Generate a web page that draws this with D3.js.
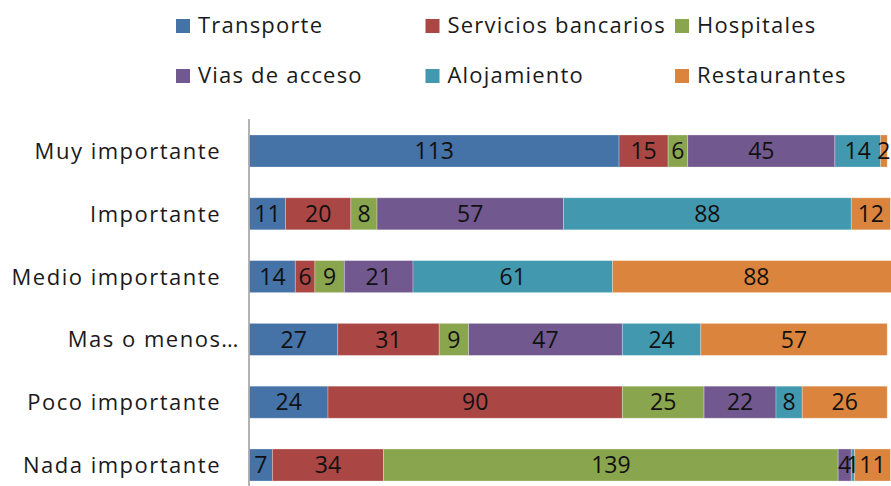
<!DOCTYPE html>
<html>
<head>
<meta charset="utf-8">
<script src="https://cdn.jsdelivr.net/npm/d3@7"></script>
<style>
  body { margin: 0; background: #fff; }
  svg { display: block; font-family: "Open Sans", sans-serif; }
</style>
</head>
<body>
<svg width="891" height="486"></svg>
<script>
// rows, top to bottom
var categories = ['Muy importante', 'Importante', 'Medio importante', 'Mas o menos\u2026', 'Poco importante', 'Nada importante'];
var seriesNames = ['Transporte', 'Servicios bancarios', 'Hospitales', 'Vias de acceso', 'Alojamiento', 'Restaurantes'];
var seriesColors = ['#4572A7', '#AA4643', '#89A54E', '#71588F', '#4198AF', '#DB843D'];

var transporte = [113, 11, 14, 27, 24, 7];
var servicios = [15, 20, 6, 31, 90, 34];
var hospitales = [6, 8, 9, 9, 25, 139];
var vias = [45, 57, 21, 47, 22, 4];
var alojamiento = [14, 88, 61, 24, 8, 1];
var restaurantes = [2, 12, 88, 57, 26, 11];

var seriesValues = [transporte, servicios, hospitales, vias, alojamiento, restaurantes];

var width = 891, height = 486;
var svg = d3.select('svg');

// table for the stack
var table = categories.map(function(c, i) {
  var row = { cat: c };
  seriesNames.forEach(function(s, j) { row[s] = seriesValues[j][i]; });
  return row;
});

var stacked = d3.stack().keys(seriesNames)(table);

var x = d3.scaleLinear().domain([0, 195]).range([249.5, 887.2]);
var y = d3.scaleBand().domain(categories).range([119.6, 496.4])
  .paddingInner(0.49).paddingOuter(0.245);
var color = d3.scaleOrdinal().domain(seriesNames).range(seriesColors);

var bars = svg.append('g').selectAll('g')
  .data(stacked)
  .enter()
  .append('g')
  .style('fill', function(d) { return color(d.key); });

bars.selectAll('rect')
  .data(function(d) { return d; })
  .enter()
  .append('rect')
  .attr('x', function(d) { return x(d[0]); })
  .attr('y', function(d) { return y(d.data.cat); })
  .attr('width', function(d) { return x(d[1]) - x(d[0]); })
  .attr('height', y.bandwidth())
  .style('stroke', 'rgba(255,255,255,0.35)')
  .style('stroke-width', 0.8);

// value labels on top of all bars, centred in each segment
var labels = svg.append('g').selectAll('g')
  .data(stacked)
  .enter()
  .append('g');

labels.selectAll('text')
  .data(function(d) { return d; })
  .enter()
  .append('text')
  .attr('x', function(d) { return (x(d[0]) + x(d[1])) / 2; })
  .attr('y', function(d) { return y(d.data.cat) + y.bandwidth() / 2; })
  .attr('dy', '0.36em')
  .attr('text-anchor', 'middle')
  .style('fill', '#111')
  .style('font-size', '23px')
  .text(function(d) { return d[1] - d[0]; });

// category axis
var yAxis = svg.append('g')
  .attr('transform', 'translate(249,0)')
  .call(d3.axisLeft(y).tickSize(0).tickPadding(28));

yAxis.select('.domain').remove();
yAxis.append('line')
  .attr('x1', 0).attr('x2', 0)
  .attr('y1', 119).attr('y2', height)
  .style('stroke', '#9a9a9a')
  .style('stroke-width', 1.5);

yAxis.selectAll('.tick text')
  .attr('x', function(d) { return d.slice(-1) == '\u2026' ? -9 : -28; })
  .attr('dy', '0.36em')
  .style('font-size', '22px')
  .style('letter-spacing', '1.5px')
  .style('font-family', '"Open Sans", sans-serif')
  .style('fill', '#1a1a1a');

// legend, 3 per row
var legend = svg.append('g').selectAll('g')
  .data(seriesNames)
  .enter()
  .append('g')
  .attr('transform', function(d, i) {
    return 'translate(' + [176 + (i % 3) * 249.5, 33 + Math.floor(i / 3) * 50] + ')';
  });

legend.append('rect')
  .attr('x', 0).attr('y', -14)
  .attr('width', 14).attr('height', 14)
  .style('fill', function(d) { return color(d); });

legend.append('text')
  .attr('x', 22)
  .attr('y', 0)
  .style('font-size', '22px')
  .style('letter-spacing', '1.2px')
  .style('fill', '#1a1a1a')
  .text(function(d) { return d; });
</script>
</body>
</html>
